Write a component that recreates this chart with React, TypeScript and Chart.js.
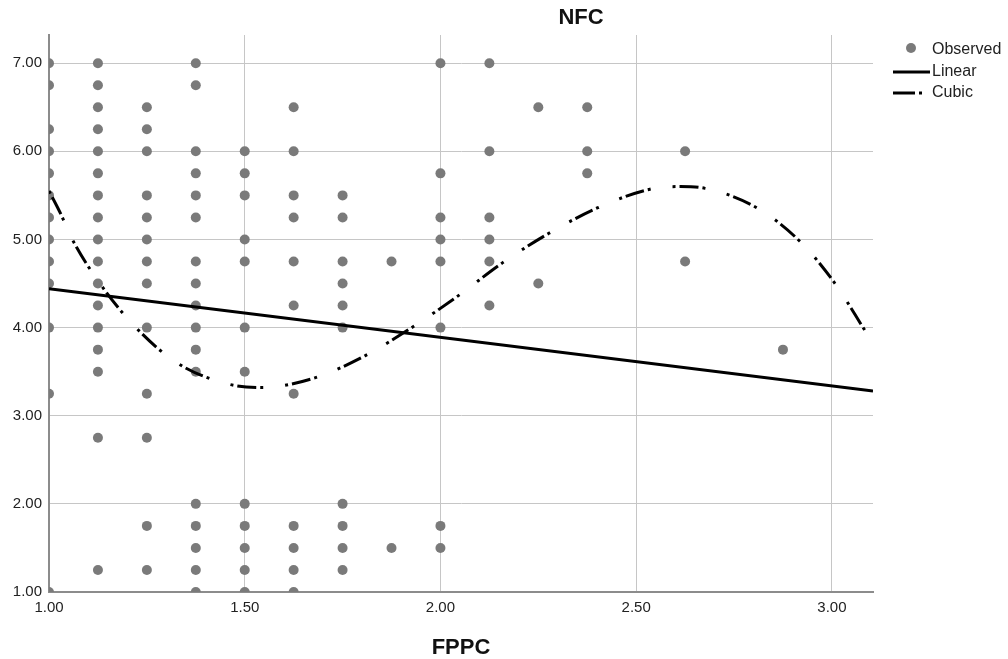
import React, { useEffect, useRef } from 'react';
import { Chart, registerables } from 'chart.js';

Chart.register(...registerables);

// ---------- data ----------
const chartTitle = 'NFC';
const xAxisTitle = 'FPPC';
const legendLabels = ['Observed', 'Linear', 'Cubic'];

const xTickValues = [1.0, 1.5, 2.0, 2.5, 3.0];
const yTickValues = [1, 2, 3, 4, 5, 6, 7];
const xRange = [1.0, 3.105];
const yRange = [1.0, 7.32];

// FPPC levels (x) and the NFC values (y) observed at each level
const fppcLevels = [1.0, 1.125, 1.25, 1.375, 1.5, 1.625, 1.75, 1.875, 2.0, 2.125, 2.25, 2.375, 2.625, 2.875];
const nfcAtLevel: number[][] = [
  [7, 6.75, 6.25, 6, 5.75, 5.5, 5.25, 5, 4.75, 4.5, 4, 3.25, 1],
  [7, 6.75, 6.5, 6.25, 6, 5.75, 5.5, 5.25, 5, 4.75, 4.5, 4.25, 4, 3.75, 3.5, 2.75, 1.25],
  [6.5, 6.25, 6, 5.5, 5.25, 5, 4.75, 4.5, 4, 3.25, 2.75, 1.75, 1.25],
  [7, 6.75, 6, 5.75, 5.5, 5.25, 4.75, 4.5, 4.25, 4, 3.75, 3.5, 2, 1.75, 1.5, 1.25, 1],
  [6, 5.75, 5.5, 5, 4.75, 4, 3.5, 2, 1.75, 1.5, 1.25, 1],
  [6.5, 6, 5.5, 5.25, 4.75, 4.25, 3.25, 1.75, 1.5, 1.25, 1],
  [5.5, 5.25, 4.75, 4.5, 4.25, 4, 2, 1.75, 1.5, 1.25],
  [4.75, 1.5],
  [7, 5.75, 5.25, 5, 4.75, 4, 1.75, 1.5],
  [7, 6, 5.25, 5, 4.75, 4.25],
  [6.5, 4.5],
  [6.5, 6, 5.75],
  [6, 4.75],
  [3.75],
];

// Linear fit line (end points)
const linearFppc = [1.0, 3.105];
const linearNfc = [4.44, 3.28];

// Cubic fit curve
const cubicFppc = [1.0, 1.03, 1.056, 1.13, 1.22, 1.327, 1.457, 1.543, 1.679, 1.807, 1.93, 2.045, 2.16, 2.277, 2.402, 2.535, 2.612, 2.676, 2.808, 2.918, 3.008, 3.084];
const cubicNfc = [5.55, 5.29, 5.03, 4.5, 4.01, 3.6, 3.36, 3.32, 3.43, 3.68, 4.01, 4.36, 4.74, 5.07, 5.36, 5.57, 5.6, 5.58, 5.36, 4.98, 4.5, 3.97];

// ---------- styling ----------
const FONT = '"Liberation Sans", Arial, Helvetica, sans-serif';
const POINT_COLOR = '#7a7a7a';
const LINE_COLOR = '#000000';
const CUBIC_DASH = [3, 4, 19, 4, 3, 22];

const decorPlugin = {
  id: 'decor',
  afterDraw(chart: any) {
    const ctx = chart.ctx;
    const area = chart.chartArea;
    ctx.save();
    ctx.fillStyle = '#111';
    ctx.font = `bold 22px ${FONT}`;
    ctx.textAlign = 'center';
    ctx.textBaseline = 'middle';
    ctx.fillText(chartTitle, 581, 18);
    ctx.fillText(xAxisTitle, (area.left + area.right) / 2, 648);

    // legend
    const lx = 893;
    const tx = 932;
    const rows = [50, 72, 93];
    ctx.fillStyle = POINT_COLOR;
    ctx.beginPath();
    ctx.arc(911, 48, 5, 0, Math.PI * 2);
    ctx.fill();

    ctx.strokeStyle = LINE_COLOR;
    ctx.lineWidth = 3;
    ctx.beginPath();
    ctx.moveTo(lx, rows[1]);
    ctx.lineTo(930, rows[1]);
    ctx.stroke();

    ctx.beginPath();
    ctx.moveTo(lx, rows[2]);
    ctx.lineTo(915, rows[2]);
    ctx.stroke();
    ctx.beginPath();
    ctx.moveTo(919, rows[2]);
    ctx.lineTo(922, rows[2]);
    ctx.stroke();

    ctx.fillStyle = '#222';
    ctx.font = `16px ${FONT}`;
    ctx.textAlign = 'left';
    ctx.textBaseline = 'middle';
    legendLabels.forEach((t, i) => ctx.fillText(t, tx, rows[i]));
    ctx.restore();
  },
};

export default function App() {
  const canvasRef = useRef<HTMLCanvasElement | null>(null);

  useEffect(() => {
    const canvas = canvasRef.current;
    if (!canvas) return;

    const observed: { x: number; y: number }[] = [];
    fppcLevels.forEach((x, i) => {
      nfcAtLevel[i].forEach((y) => observed.push({ x, y }));
    });
    const linear = linearFppc.map((x, i) => ({ x, y: linearNfc[i] }));
    const cubic = cubicFppc.map((x, i) => ({ x, y: cubicNfc[i] }));

    const axisCommon = {
      type: 'linear' as const,
      grid: { color: '#c6c6c6', lineWidth: 1, drawTicks: false },
      border: { display: true, color: '#8c8c8c', width: 2 },
    };

    const chart = new Chart(canvas, {
      type: 'scatter',
      data: {
        datasets: [
          {
            type: 'line',
            label: legendLabels[2],
            data: cubic,
            borderColor: LINE_COLOR,
            borderWidth: 3,
            borderDash: CUBIC_DASH,
            pointRadius: 0,
            fill: false,
            cubicInterpolationMode: 'monotone',
            order: 1,
          } as any,
          {
            type: 'line',
            label: legendLabels[1],
            data: linear,
            borderColor: LINE_COLOR,
            borderWidth: 3,
            pointRadius: 0,
            fill: false,
            tension: 0,
            order: 1,
          } as any,
          {
            type: 'scatter',
            label: legendLabels[0],
            data: observed,
            pointRadius: 5,
            pointHoverRadius: 5,
            backgroundColor: POINT_COLOR,
            borderColor: POINT_COLOR,
            borderWidth: 0,
            clip: 0,
            order: 2,
          } as any,
        ],
      },
      options: {
        responsive: false,
        animation: false,
        events: [],
        layout: { padding: { left: 0, top: 35, right: 135, bottom: 0 } },
        plugins: {
          legend: { display: false },
          title: { display: false },
          tooltip: { enabled: false },
        },
        scales: {
          x: {
            ...axisCommon,
            position: 'bottom',
            min: xRange[0],
            max: xRange[1],
            afterBuildTicks: (s: any) => {
              s.ticks = xTickValues.map((v) => ({ value: v }));
            },
            afterFit: (s: any) => {
              s.height = 67;
            },
            ticks: {
              padding: 7,
              color: '#222',
              font: { family: FONT, size: 15 },
              maxRotation: 0,
              autoSkip: false,
              callback: (v: any) => Number(v).toFixed(2),
            },
          },
          y: {
            ...axisCommon,
            position: 'left',
            min: yRange[0],
            max: yRange[1],
            afterBuildTicks: (s: any) => {
              s.ticks = yTickValues.map((v) => ({ value: v }));
            },
            afterFit: (s: any) => {
              s.width = 49;
            },
            ticks: {
              padding: 7,
              color: '#222',
              font: { family: FONT, size: 15 },
              autoSkip: false,
              callback: (v: any) => Number(v).toFixed(2),
            },
          },
        },
      } as any,
      plugins: [decorPlugin],
    });

    return () => chart.destroy();
  }, []);

  return (
    <div style={{ position: 'absolute', left: 0, top: 0, width: 1008, height: 659, background: '#fff' }}>
      <canvas ref={canvasRef} width={1008} height={659} style={{ width: 1008, height: 659, display: 'block' }} />
    </div>
  );
}
